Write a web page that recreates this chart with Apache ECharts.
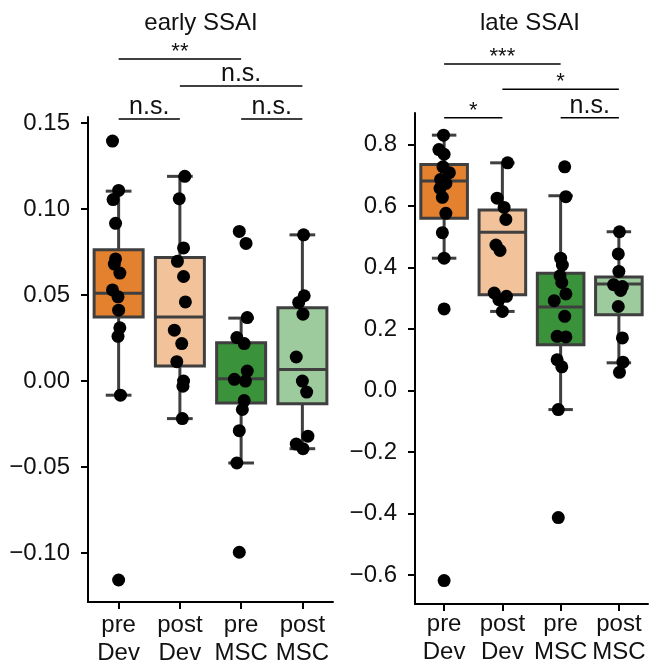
<!DOCTYPE html>
<html>
<head>
<meta charset="utf-8">
<script src="https://cdn.jsdelivr.net/npm/echarts@6/dist/echarts.min.js"></script>
<style>
  html, body { margin: 0; padding: 0; background: #fff; }
  #main { width: 651px; height: 666px; }
</style>
</head>
<body>
<div id="main"></div>
<script>
// groups on the x axis
var categories = ['pre\nDev', 'post\nDev', 'pre\nMSC', 'post\nMSC'];
var panelTitles = ['early SSAI', 'late SSAI'];

// tick labels
var earlyTicks = [-0.10, -0.05, 0.00, 0.05, 0.10, 0.15];
var lateTicks = [-0.6, -0.4, -0.2, 0.0, 0.2, 0.4, 0.6, 0.8];

// box stats: [lower whisker, q1, median, q3, upper whisker]
var earlyBoxes = [
  [-0.0082, 0.0373, 0.0511, 0.0764, 0.1104],
  [-0.0218, 0.0087, 0.0373, 0.0719, 0.1190],
  [-0.0476, -0.0127, 0.0013, 0.0223, 0.0366],
  [-0.0393, -0.0132, 0.0068, 0.0427, 0.0850]
];
var lateBoxes = [
  [0.430, 0.560, 0.681, 0.735, 0.830],
  [0.257, 0.311, 0.514, 0.587, 0.740],
  [-0.062, 0.149, 0.271, 0.381, 0.633],
  [0.090, 0.246, 0.346, 0.369, 0.516]
];

// single subjects, per group: values and horizontal jitter (in category units)
var earlyPreDev = [0.1395, 0.1108, 0.1055, 0.0917, 0.0710, 0.0680, 0.0628, 0.0530, 0.0490, 0.0412, 0.0310, 0.0260, -0.0082, -0.1156];
var earlyPreDevJit = [-0.10, 0.00, -0.09, -0.05, -0.05, -0.07, 0.02, -0.10, -0.01, 0.00, 0.02, -0.01, 0.03, 0.00];
var earlyPostDev = [0.1190, 0.1060, 0.0774, 0.0696, 0.0608, 0.0460, 0.0296, 0.0218, 0.0113, 0.0000, -0.0030, -0.0218];
var earlyPostDevJit = [0.08, -0.01, 0.06, -0.04, 0.06, 0.09, -0.09, 0.03, -0.05, 0.06, 0.05, 0.04];
var earlyPreMSC = [0.0870, 0.0800, 0.0369, 0.0253, 0.0218, 0.0058, 0.0010, 0.0000, -0.0113, -0.0165, -0.0288, -0.0476, -0.0995];
var earlyPreMSCJit = [-0.03, 0.08, 0.10, -0.07, 0.05, 0.10, -0.11, 0.07, 0.05, 0.02, -0.03, -0.07, -0.03];
var earlyPostMSC = [0.0850, 0.0496, 0.0457, 0.0389, 0.0140, 0.0000, -0.0064, -0.0320, -0.0366, -0.0393];
var earlyPostMSCJit = [0.02, 0.03, -0.06, 0.01, -0.10, 0.00, 0.07, 0.09, -0.10, 0.01];

var latePreDev = [0.830, 0.783, 0.768, 0.727, 0.708, 0.686, 0.673, 0.657, 0.628, 0.576, 0.513, 0.430, 0.265, -0.618];
var latePreDevJit = [-0.01, -0.09, 0.00, -0.02, 0.09, -0.06, 0.03, -0.07, -0.03, 0.03, -0.03, 0.00, 0.00, 0.00];
var latePostDev = [0.740, 0.625, 0.595, 0.556, 0.473, 0.455, 0.317, 0.306, 0.295, 0.257];
var latePostDevJit = [0.09, -0.09, 0.03, 0.06, -0.11, -0.04, -0.14, 0.07, -0.06, 0.00];
var latePreMSC = [0.727, 0.630, 0.430, 0.408, 0.373, 0.351, 0.314, 0.292, 0.241, 0.176, 0.174, 0.100, 0.077, -0.062, -0.413];
var latePreMSCJit = [0.07, 0.09, 0.00, 0.03, -0.01, 0.02, 0.09, -0.11, 0.07, -0.06, 0.09, -0.06, 0.02, -0.04, -0.04];
var latePostMSC = [0.516, 0.444, 0.387, 0.344, 0.338, 0.325, 0.273, 0.171, 0.092, 0.059];
var latePostMSCJit = [0.01, -0.01, 0.00, -0.09, 0.06, 0.03, -0.01, 0.06, 0.07, 0.01];

// significance brackets: [from group, to group, label]
var earlyBrackets = [[0, 1, 'n.s.'], [2, 3, 'n.s.'], [1, 3, 'n.s.'], [0, 2, '**']];
var lateBrackets = [[0, 1, '*'], [2, 3, 'n.s.'], [1, 3, '*'], [0, 2, '***']];

var boxColors = ['#e3812f', '#f2c39a', '#3a923a', '#9dcb9d'];
var edgeColor = '#3f3f3f';
var textColor = '#111';
var fontFamily = '"Liberation Sans", Arial, sans-serif';

function fmt(decimals) {
  return function (v) {
    return v.toFixed(decimals).replace('-', '\u2212');
  };
}

function points(values, jitter, group) {
  return values.map(function (v, i) { return [group + jitter[i], v]; });
}

function boxRows(boxes) {
  return boxes.map(function (b, i) { return [i].concat(b); });
}

function renderBox(params, api) {
  var g = api.value(0);
  var lo = api.coord([g, api.value(1)]);
  var q1 = api.coord([g, api.value(2)]);
  var med = api.coord([g, api.value(3)]);
  var q3 = api.coord([g, api.value(4)]);
  var hi = api.coord([g, api.value(5)]);
  var w = api.size([1, 0])[0];
  var half = w * 0.4;
  var cap = w * 0.21;
  var x = lo[0];
  var ls = { stroke: edgeColor, lineWidth: 3 };
  return {
    type: 'group',
    children: [
      { type: 'line', shape: { x1: x, y1: hi[1], x2: x, y2: lo[1] }, style: ls },
      { type: 'line', shape: { x1: x - cap, y1: hi[1], x2: x + cap, y2: hi[1] }, style: ls },
      { type: 'line', shape: { x1: x - cap, y1: lo[1], x2: x + cap, y2: lo[1] }, style: ls },
      { type: 'rect', shape: { x: x - half, y: q3[1], width: half * 2, height: q1[1] - q3[1] },
        style: { fill: boxColors[params.dataIndex], stroke: edgeColor, lineWidth: 3 } },
      { type: 'line', shape: { x1: x - half, y1: med[1], x2: x + half, y2: med[1] }, style: ls }
    ]
  };
}

function bracketRenderer(brackets, offsets) {
  return function (params, api) {
    var b = brackets[params.dataIndex];
    var y = params.coordSys.y + offsets[params.dataIndex];
    var x1 = api.coord([b[0], 0])[0];
    var x2 = api.coord([b[1], 0])[0];
    var stars = b[2].charAt(0) === '*';
    return {
      type: 'group',
      children: [
        { type: 'line', shape: { x1: x1, y1: y, x2: x2, y2: y }, style: { stroke: '#000', lineWidth: 1.5 } },
        { type: 'text', x: (x1 + x2) / 2, y: y + (stars ? 4 : 1),
          style: { text: b[2], fill: textColor, font: (stars ? '22px ' : '25px ') + fontFamily,
            textAlign: 'center', textVerticalAlign: 'bottom' } }
      ]
    };
  };
}

function xAxisFor(gridIndex, margin) {
  return {
    type: 'value', gridIndex: gridIndex, min: -0.5, max: 3.5,
    axisLine: { onZero: false, lineStyle: { color: '#000', width: 2 } },
    axisTick: { customValues: [0, 1, 2, 3], length: 7, lineStyle: { color: '#000', width: 2 } },
    axisLabel: {
      customValues: [0, 1, 2, 3], margin: margin, color: textColor, fontSize: 24, lineHeight: 28,
      fontFamily: fontFamily,
      formatter: function (v) { return categories[Math.round(v)]; }
    },
    splitLine: { show: false }
  };
}

function yAxisFor(gridIndex, min, max, ticks, decimals) {
  return {
    type: 'value', gridIndex: gridIndex, min: min, max: max,
    axisLine: { show: true, onZero: false, lineStyle: { color: '#000', width: 2 } },
    axisTick: { show: true, customValues: ticks, length: 7, lineStyle: { color: '#000', width: 2 } },
    axisLabel: { customValues: ticks, margin: 18, color: textColor, fontSize: 24, fontFamily: fontFamily, formatter: fmt(decimals) },
    splitLine: { show: false }
  };
}

function scatter(axisIndex, data) {
  return {
    type: 'scatter', xAxisIndex: axisIndex, yAxisIndex: axisIndex, data: data,
    symbolSize: 13, itemStyle: { color: '#000', opacity: 1 }, z: 5, silent: true
  };
}

var chart = echarts.init(document.getElementById('main'));
chart.setOption({
  animation: false,
  title: [
    { text: panelTitles[0], left: 196, top: 6, textAlign: 'center',
      textStyle: { fontSize: 24, fontWeight: 'normal', color: textColor, fontFamily: fontFamily } },
    { text: panelTitles[1], left: 525, top: 6, textAlign: 'center',
      textStyle: { fontSize: 24, fontWeight: 'normal', color: textColor, fontFamily: fontFamily } }
  ],
  grid: [
    { left: 88, right: 318, top: 117, bottom: 64, outerBoundsMode: 'none' },
    { left: 415, right: 3, top: 113, bottom: 62, outerBoundsMode: 'none' }
  ],
  xAxis: [xAxisFor(0, 9), xAxisFor(1, 6)],
  yAxis: [
    yAxisFor(0, -0.1284, 0.1535, earlyTicks, 2),
    yAxisFor(1, -0.694, 0.902, lateTicks, 1)
  ],
  series: [
    { type: 'custom', xAxisIndex: 0, yAxisIndex: 0, data: boxRows(earlyBoxes), renderItem: renderBox,
      encode: { x: 0, y: [1, 2, 3, 4, 5] }, z: 2, silent: true },
    { type: 'custom', xAxisIndex: 1, yAxisIndex: 1, data: boxRows(lateBoxes), renderItem: renderBox,
      encode: { x: 0, y: [1, 2, 3, 4, 5] }, z: 2, silent: true },
    scatter(0, points(earlyPreDev, earlyPreDevJit, 0)),
    scatter(0, points(earlyPostDev, earlyPostDevJit, 1)),
    scatter(0, points(earlyPreMSC, earlyPreMSCJit, 2)),
    scatter(0, points(earlyPostMSC, earlyPostMSCJit, 3)),
    scatter(1, points(latePreDev, latePreDevJit, 0)),
    scatter(1, points(latePostDev, latePostDevJit, 1)),
    scatter(1, points(latePreMSC, latePreMSCJit, 2)),
    scatter(1, points(latePostMSC, latePostMSCJit, 3)),
    { type: 'custom', xAxisIndex: 0, yAxisIndex: 0, clip: false, silent: true,
      data: earlyBrackets.map(function (b) { return [b[0], b[1]]; }), encode: { x: [0, 1] },
      renderItem: bracketRenderer(earlyBrackets, [2, 2, -31, -58]) },
    { type: 'custom', xAxisIndex: 1, yAxisIndex: 1, clip: false, silent: true,
      data: lateBrackets.map(function (b) { return [b[0], b[1]]; }), encode: { x: [0, 1] },
      renderItem: bracketRenderer(lateBrackets, [4.7, 4.7, -23.7, -49]) }
  ]
});
</script>
</body>
</html>
